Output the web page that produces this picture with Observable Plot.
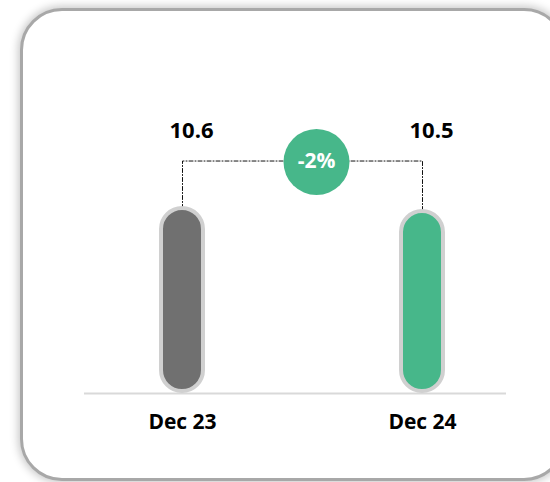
<!DOCTYPE html>
<html>
<head>
<meta charset="utf-8">
<script src="https://cdn.jsdelivr.net/npm/d3@7"></script>
<script src="https://cdn.jsdelivr.net/npm/@observablehq/plot@0.6"></script>
<style>
  html, body { margin: 0; padding: 0; background: #ffffff; width: 550px; height: 482px; overflow: hidden; }
  #wrap { position: relative; width: 550px; height: 482px; }
  #card {
    position: absolute; left: 20px; top: 8px; width: 540px; height: 467px;
    border: 3px solid #a8a8a8; border-radius: 42px; background: #fff;
    box-shadow: 0 0 9px 2px rgba(0,0,0,0.22);
  }
  #chart { position: absolute; left: 0; top: 0; }
</style>
</head>
<body>
<div id="wrap"><div id="card"></div><div id="chart"></div></div>
<script>
const periods = ["Dec 23", "Dec 24"];
const values = [10.64, 10.46];
const barColors = ["#707070", "#47b78a"];
const connectorLevel = 13.4;

const data = periods.map((p, i) => ({period: p, value: values[i]}));
const change = Math.round((values[1] / values[0] - 1) * 100);
const changeLabel = (change > 0 ? "+" : "") + change + "%";
const connector = [
  {period: periods[0], y: values[0]},
  {period: periods[0], y: connectorLevel},
  {period: periods[1], y: connectorLevel},
  {period: periods[1], y: values[1]}
];

const font = "'Open Sans', Lato, sans-serif";

const chart = Plot.plot({
  width: 550,
  height: 482,
  marginLeft: 84,
  marginRight: 44,
  marginTop: 0,
  marginBottom: 0,
  style: {background: "transparent", fontFamily: font},
  x: {domain: periods, paddingInner: 0.8257, paddingOuter: 0.2885, align: 0.547, axis: null},
  y: {domain: [0, 21], range: [391, 391 - 21 * 17.2], axis: null},
  color: {domain: periods, range: barColors},
  marks: [
    Plot.ruleY([0], {stroke: "#d9d9d9", strokeWidth: 2, dy: 2}),
    Plot.line(connector, {x: "period", y: "y", stroke: "#111", strokeWidth: 1, strokeDasharray: "4,2,1,2"}),
    Plot.barY(data, {x: "period", y: "value", fill: "period", stroke: "#d0d0d0", strokeWidth: 4, rx: 21, ry: 21}),
    Plot.text(data, {x: "period", y: () => connectorLevel, text: d => d.value.toFixed(1), dx: 9, dy: -30, lineAnchor: "middle", fontSize: 22, fontWeight: "bold", fill: "#000"}),
    Plot.dot([changeLabel], {x: () => periods[0], y: () => connectorLevel, r: 33, fill: "#47b78a", stroke: "none", dx: 134, dy: 1}),
    Plot.text([changeLabel], {x: () => periods[0], y: () => connectorLevel, text: d => d, dx: 134, dy: 0, lineAnchor: "middle", fontSize: 21, fontWeight: "bold", fill: "#fff"}),
    Plot.text(periods, {x: d => d, y: () => 0, text: d => d, dy: 31, lineAnchor: "middle", fontSize: 21, fontWeight: "bold", fill: "#000"})
  ]
});
document.getElementById("chart").appendChild(chart);
</script>
</body>
</html>
